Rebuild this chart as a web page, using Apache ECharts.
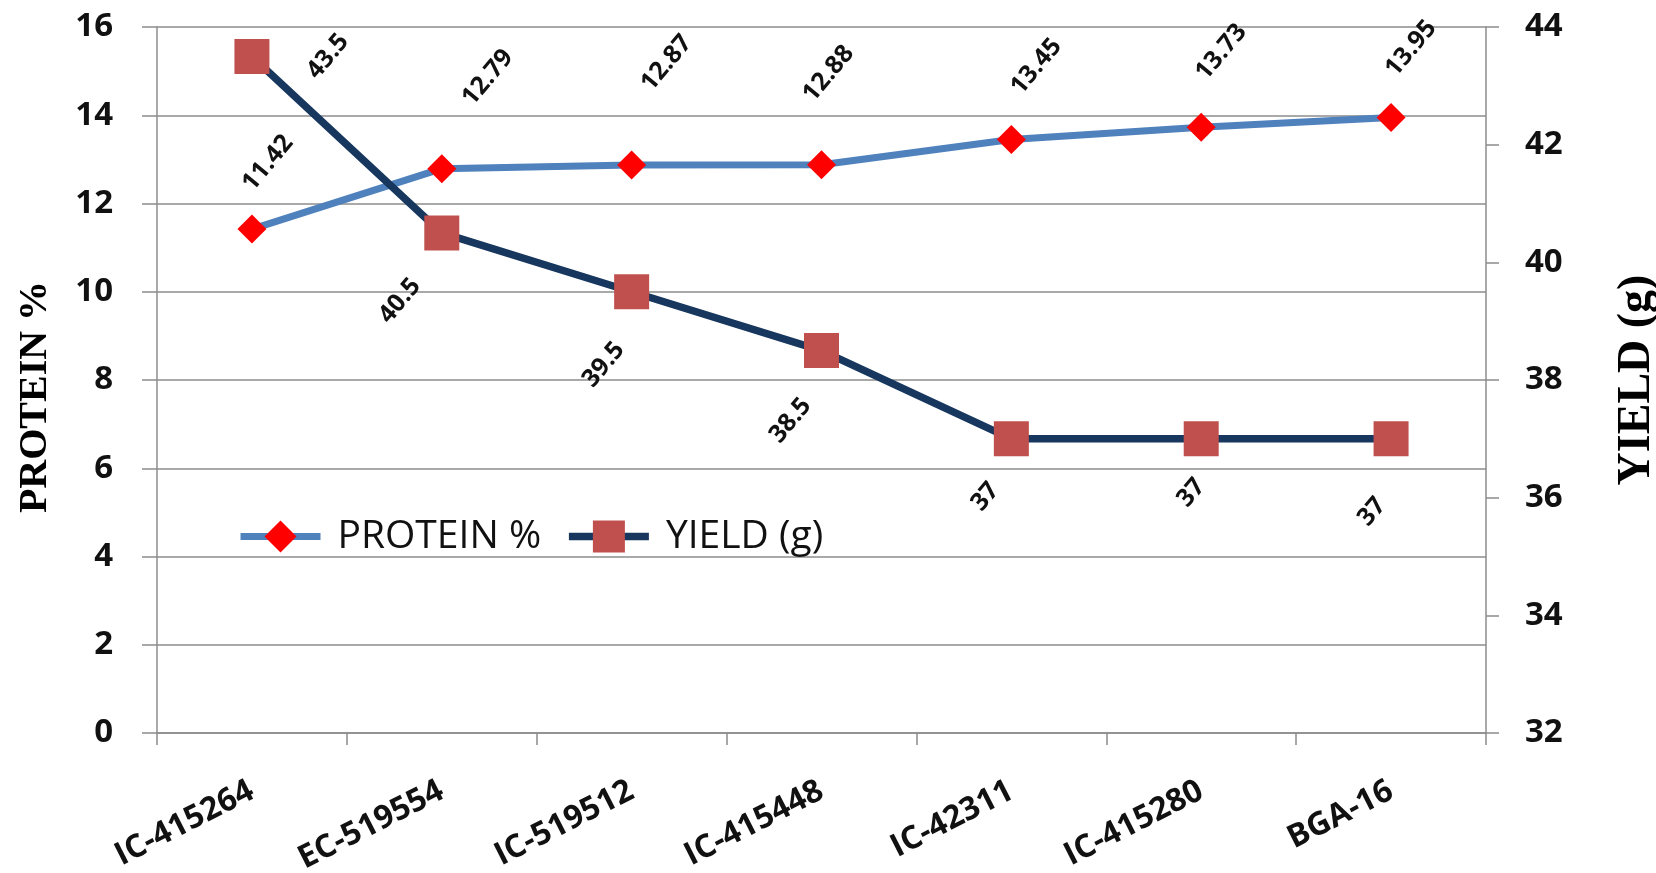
<!DOCTYPE html>
<html>
<head>
<meta charset="utf-8">
<script src="https://cdn.jsdelivr.net/npm/echarts@6/dist/echarts.min.js"></script>
<style>
  html, body { margin: 0; padding: 0; background: #ffffff; }
  #chart { width: 1656px; height: 873px; }
</style>
</head>
<body>
<div id="chart"></div>
<script>
// Genotypes on the category axis
const categories = ['IC-415264', 'EC-519554', 'IC-519512', 'IC-415448', 'IC-42311', 'IC-415280', 'BGA-16'];

// Protein content (%) – left axis
const proteinValues = [11.42, 12.79, 12.87, 12.88, 13.45, 13.73, 13.95];

// Yield (g) – right axis
const yieldValues = [43.5, 40.5, 39.5, 38.5, 37, 37, 37];

// Axis ranges
const proteinAxis = { min: 0, max: 16, interval: 2 };
const yieldAxis = { min: 32, max: 44, interval: 2 };

// Where each value label sits relative to its marker centre (px on screen)
const proteinLabelShift = [[16, -66], [46, -91], [35, -102], [7, -91], [25, -73], [20, -75], [20, -69]];
const yieldLabelShift = [[76, 0], [-42, 68], [-28, 73], [-31, 70], [-26, 58], [-10, 54], [-19, 73]];

const GRID_COLOR = '#8c8c8c';
const LABEL_ANGLE = 50;

// Places the rotated value labels around their markers
function placeLabels(shifts) {
  return function (params) {
    const s = shifts[params.dataIndex];
    const r = params.rect;
    return {
      x: r.x + r.width / 2 + s[0],
      y: r.y + r.height / 2 + s[1],
      rotate: LABEL_ANGLE,
      align: 'center',
      verticalAlign: 'middle'
    };
  };
}

const valueLabel = {
  show: true,
  position: 'inside',
  fontFamily: 'Open Sans',
  fontWeight: 'bold',
  fontSize: 25,
  color: '#111111'
};

const chart = echarts.init(document.getElementById('chart'), null, { renderer: 'canvas' });

chart.setOption({
  animation: false,
  backgroundColor: '#ffffff',
  grid: {
    left: 157,
    right: 170,
    top: 27,
    bottom: 140,
    containLabel: false,
    outerBoundsMode: 'none'
  },
  legend: {
    data: ['PROTEIN %', 'YIELD (g)'],
    left: 237,
    top: 517,
    padding: 0,
    itemWidth: 80,
    itemHeight: 40,
    itemGap: 24,
    lineStyle: { width: 'inherit' },
    textStyle: { fontFamily: 'Open Sans', fontSize: 39, color: '#111111', padding: [0, 0, 0, 12] }
  },
  xAxis: {
    type: 'category',
    data: categories,
    boundaryGap: true,
    axisLine: { show: true, onZero: false, lineStyle: { color: GRID_COLOR, width: 1.5 } },
    axisTick: { show: true, length: 12, lineStyle: { color: GRID_COLOR, width: 1.5 } },
    axisLabel: {
      interval: 0,
      rotate: 27,
      margin: 56,
      fontFamily: 'Open Sans',
      fontWeight: 'bold',
      fontSize: 32,
      color: '#111111'
    },
    splitLine: { show: false }
  },
  yAxis: [
    {
      type: 'value',
      position: 'left',
      min: proteinAxis.min,
      max: proteinAxis.max,
      interval: proteinAxis.interval,
      name: 'PROTEIN %',
      nameLocation: 'middle',
      nameGap: 101,
      nameRotate: 90,
      nameTextStyle: {
        fontFamily: 'Liberation Serif',
        fontWeight: 'bold',
        fontSize: 40,
        color: '#000000',
        padding: [0, 34, 0, 0]
      },
      axisLine: { show: true, lineStyle: { color: GRID_COLOR, width: 1.5 } },
      axisTick: { show: true, inside: false, length: 15, lineStyle: { color: GRID_COLOR, width: 1.5 } },
      axisLabel: { margin: 44, fontFamily: 'Open Sans', fontWeight: 'bold', fontSize: 33, color: '#111111' },
      splitLine: { show: true, lineStyle: { color: GRID_COLOR, width: 1.5 } }
    },
    {
      type: 'value',
      position: 'right',
      min: yieldAxis.min,
      max: yieldAxis.max,
      interval: yieldAxis.interval,
      name: 'YIELD (g)',
      nameLocation: 'middle',
      nameGap: 128,
      nameRotate: 90,
      nameTextStyle: {
        fontFamily: 'Liberation Serif',
        fontWeight: 'bold',
        fontSize: 46,
        color: '#000000'
      },
      axisLine: { show: true, lineStyle: { color: GRID_COLOR, width: 1.5 } },
      axisTick: { show: true, inside: false, length: 13, lineStyle: { color: GRID_COLOR, width: 1.5 } },
      axisLabel: { margin: 39, fontFamily: 'Open Sans', fontWeight: 'bold', fontSize: 33, color: '#111111' },
      splitLine: { show: false }
    }
  ],
  series: [
    {
      name: 'PROTEIN %',
      type: 'line',
      yAxisIndex: 0,
      data: proteinValues,
      symbol: 'diamond',
      symbolSize: 29,
      showAllSymbol: true,
      itemStyle: { color: '#ff0000' },
      lineStyle: { color: '#4f81bd', width: 7 },
      label: valueLabel,
      labelLayout: placeLabels(proteinLabelShift),
      emphasis: { disabled: true },
      z: 2
    },
    {
      name: 'YIELD (g)',
      type: 'line',
      yAxisIndex: 1,
      data: yieldValues,
      symbol: 'rect',
      symbolSize: 35,
      showAllSymbol: true,
      itemStyle: { color: '#c0504d' },
      lineStyle: { color: '#17375e', width: 7.5 },
      label: valueLabel,
      labelLayout: placeLabels(yieldLabelShift),
      emphasis: { disabled: true },
      z: 3
    }
  ]
});
</script>
</body>
</html>
